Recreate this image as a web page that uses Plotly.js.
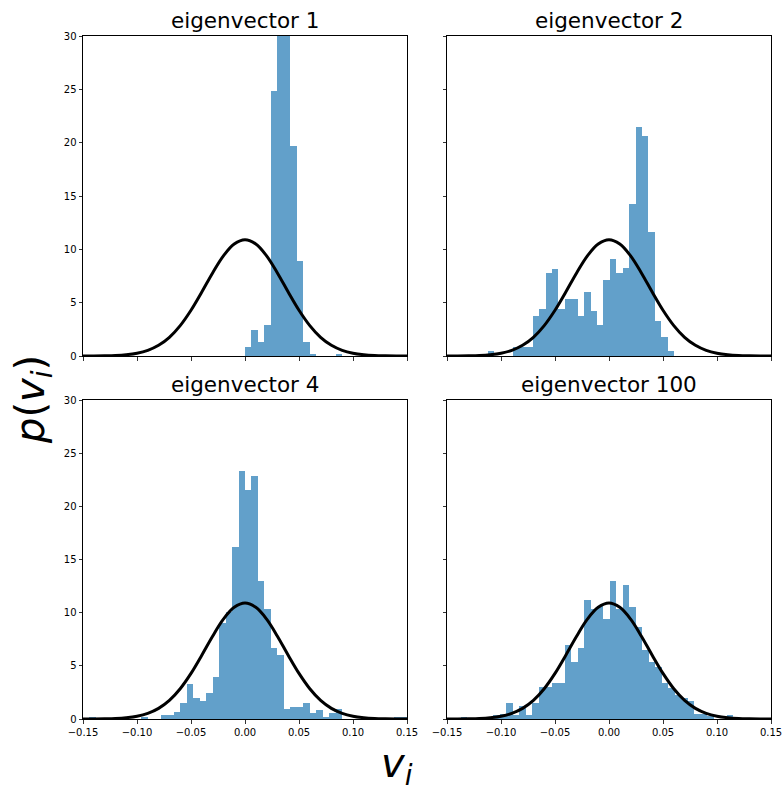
<!DOCTYPE html>
<html>
<head>
<meta charset="utf-8">
<script src="https://cdn.plot.ly/plotly-3.0.1.min.js"></script>
<style>html,body{margin:0;padding:0;background:#fff;}#chart{width:783px;height:788px;}</style>
</head>
<body>
<div id="chart"></div>
<script>
// ---- data ----
const panelTitles = ["eigenvector 1", "eigenvector 2", "eigenvector 4", "eigenvector 100"];

// histogram bins: first left edge, bin width, densities
const binStart1 = 0.0, binWidth1 = 0.006;
const heights1 = [0.87, 2.44, 1.34, 2.9, 24.8, 33, 32, 19.7, 8.94, 1.28, 0.19, 0, 0, 0, 0.2];

const binStart2 = -0.1123, binWidth2 = 0.00595;
const heights2 = [0.47, 0, 0, 0, 0.8, 0.8, 0.8, 3.75, 4.4, 7.8, 8.2, 4.4, 5.34, 5.34, 3.75,
  6.03, 4.22, 2.9, 7.12, 9.13, 7.8, 8.25, 14.25, 21.5, 20.6, 11.6, 3.3, 1.75, 0.44];

const binStart3 = -0.144, binWidth3 = 0.006;
const heights3 = [0.16, 0, 0, 0, 0, 0, 0, 0, 0.22, 0, 0, 0.38, 0.38, 0.63, 1.53, 3.32, 2.0,
  1.72, 2.45, 3.98, 9.0, 10.1, 16.2, 23.36, 21.5, 22.9, 13.0, 10.3, 6.68, 6.02, 0.91, 1.1,
  1.1, 1.53, 0.6, 0.85, 0.15, 0.6, 0.9, 0, 0, 0, 0, 0, 0, 0, 0, 0.15, 0.15];

const binStart4 = -0.1371, binWidth4 = 0.006;
const heights4 = [0.15, 0, 0, 0, 0, 0.38, 0.47, 1.53, 0.38, 1.25, 0.38, 1.53, 3.04, 3.04,
  3.36, 3.36, 6.96, 5.33, 6.65, 11.2, 10.3, 10.6, 9.38, 13.0, 10.3, 12.6, 10.5, 8.68, 6.49,
  5.39, 4.92, 3.36, 2.89, 2.26, 2.0, 1.69, 0.47, 0.47, 0.3, 0, 0, 0.4];

// reference normal curve, read at steps of 0.01
const curveX = [-0.15, -0.14, -0.13, -0.12, -0.11, -0.10, -0.09, -0.08, -0.07, -0.06, -0.05,
  -0.04, -0.03, -0.02, -0.01, 0.0, 0.01, 0.02, 0.03, 0.04, 0.05, 0.06, 0.07, 0.08, 0.09,
  0.10, 0.11, 0.12, 0.13, 0.14, 0.15];
const curveY = [0.002, 0.007, 0.02, 0.05, 0.12, 0.26, 0.53, 1.0, 1.75, 2.85, 4.29, 6.0, 7.79,
  9.39, 10.5, 10.9, 10.5, 9.39, 7.79, 6.0, 4.29, 2.85, 1.75, 1.0, 0.53, 0.26, 0.12, 0.05,
  0.02, 0.007, 0.002];

const xTickVals = [-0.15, -0.10, -0.05, 0.0, 0.05, 0.10, 0.15];
const xTickText = ["\u22120.15", "\u22120.10", "\u22120.05", "0.00", "0.05", "0.10", "0.15"];
const yTickVals = [0, 5, 10, 15, 20, 25, 30];
const yTickText = ["0", "5", "10", "15", "20", "25", "30"];

// ---- build figure ----
const panels = [
  [binStart1, binWidth1, heights1],
  [binStart2, binWidth2, heights2],
  [binStart3, binWidth3, heights3],
  [binStart4, binWidth4, heights4]
];
const barColor = "rgba(31,119,180,0.7)";
const traces = [];
panels.forEach((p, i) => {
  const [s, w, h] = p;
  const xs = h.map((_, j) => s + (j + 0.5) * w);
  const sfx = i === 0 ? "" : String(i + 1);
  traces.push({
    type: "bar", x: xs, y: h, width: w,
    marker: {color: barColor, line: {width: 0}},
    xaxis: "x" + sfx, yaxis: "y" + sfx, hoverinfo: "skip", showlegend: false
  });
  traces.push({
    type: "scatter", mode: "lines", x: curveX, y: curveY,
    line: {color: "#000", width: 3, shape: "spline"},
    xaxis: "x" + sfx, yaxis: "y" + sfx, hoverinfo: "skip", showlegend: false
  });
});

const W = 783, H = 788;
const colDom = [[83 / W, 407 / W], [447 / W, 771 / W]];
const rowDom = [[1 - 356 / H, 1 - 36 / H], [1 - 719 / H, 1 - 400 / H]];
const font = "DejaVu Sans, sans-serif";

function xa(col, row) {
  return {
    domain: colDom[col], range: [-0.15, 0.15], autorange: false,
    showgrid: false, zeroline: false, showline: true, mirror: true,
    linecolor: "#000", linewidth: 1,
    ticks: "outside", ticklen: 3.5, tickwidth: 0.8, tickcolor: "#000",
    tickmode: "array", tickvals: xTickVals, ticktext: xTickText,
    showticklabels: row === 1,
    tickfont: {family: font, size: 10, color: "#000"},
    anchor: "y" + (row * 2 + col === 0 ? "" : String(row * 2 + col + 1))
  };
}
function ya(col, row) {
  return {
    domain: rowDom[row], range: [0, 30], autorange: false,
    showgrid: false, zeroline: false, showline: true, mirror: true,
    linecolor: "#000", linewidth: 1,
    ticks: "outside", ticklen: 3.5, tickwidth: 0.8, tickcolor: "#000",
    tickmode: "array", tickvals: yTickVals, ticktext: yTickText,
    showticklabels: col === 0,
    tickfont: {family: font, size: 10, color: "#000"},
    anchor: "x" + (row * 2 + col === 0 ? "" : String(row * 2 + col + 1))
  };
}

const annotations = panelTitles.map((t, i) => {
  const col = i % 2, row = Math.floor(i / 2);
  return {
    text: t, xref: "paper", yref: "paper",
    x: (colDom[col][0] + colDom[col][1]) / 2,
    y: rowDom[row][1] + 16 / H, xanchor: "center", yanchor: "middle",
    showarrow: false, font: {family: font, size: 21.5, color: "#000"}
  };
});
annotations.push({
  text: "<i>p</i>(<i>v</i><sub><i>i</i></sub>)", xref: "paper", yref: "paper",
  x: 33 / W, y: 1 - 400 / H, xanchor: "center", yanchor: "middle", textangle: -90,
  showarrow: false, font: {family: font, size: 40, color: "#000"}
});
annotations.push({
  text: "<i>v</i><sub><i>i</i></sub>", xref: "paper", yref: "paper",
  x: 397 / W, y: 1 - 766 / H, xanchor: "center", yanchor: "middle",
  showarrow: false, font: {family: font, size: 40, color: "#000"}
});

const layout = {
  width: W, height: H,
  margin: {l: 0, r: 0, t: 0, b: 0},
  paper_bgcolor: "#fff", plot_bgcolor: "#fff",
  bargap: 0, barmode: "overlay",
  showlegend: false,
  xaxis: xa(0, 0), yaxis: ya(0, 0),
  xaxis2: xa(1, 0), yaxis2: ya(1, 0),
  xaxis3: xa(0, 1), yaxis3: ya(0, 1),
  xaxis4: xa(1, 1), yaxis4: ya(1, 1),
  annotations: annotations
};

Plotly.newPlot("chart", traces, layout, {staticPlot: true, displayModeBar: false});
</script>
</body>
</html>
